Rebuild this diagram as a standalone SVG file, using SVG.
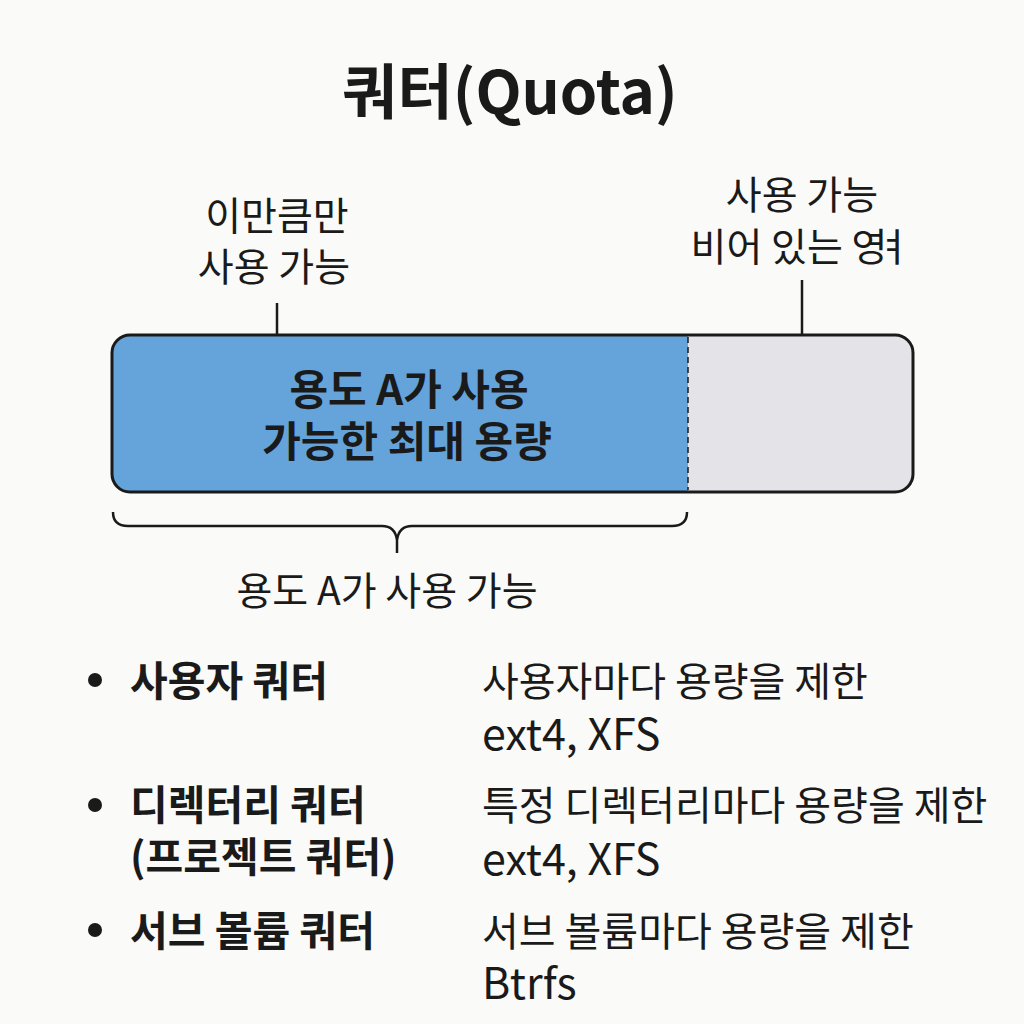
<svg xmlns="http://www.w3.org/2000/svg" width="1024" height="1024" viewBox="0 0 1024 1024">
<style>
text{font-family:"Noto Sans CJK KR","Noto Sans",sans-serif;fill:#1a1a1a}
.t{font-size:60px;font-weight:700;text-anchor:middle}
.lab{font-size:39px;text-anchor:middle}
.in{font-size:42px;font-weight:700;text-anchor:middle}
.b{font-size:41px;font-weight:700}
.d{font-size:40px}
.e{font-size:43px}
.ln{stroke:#1a1a1a;stroke-width:2.5;fill:none}
</style>
<rect width="1024" height="1024" fill="#fafaf8"/>
<g id="title"><text class="t" x="510" y="114">쿼터(Quota)</text></g>
<g id="used-label">
<text class="lab" x="277" y="230">이만큼만</text>
<text class="lab" x="274" y="281">사용 가능</text>
</g>
<g id="free-label">
<text class="lab" x="802" y="209">사용 가능</text>
<text class="lab" x="801" y="261">비어 있는 영<tspan dx="-12">ㅕ</tspan></text>
</g>
<g id="connectors">
<line class="ln" x1="277" y1="303" x2="277" y2="335"/>
<line class="ln" x1="802" y1="280" x2="802" y2="335"/>
<path class="ln" d="M113 512 Q113 526 128 526 L382 526 Q395 526 397 540 L397 553 M397 553 L397 540 Q399 526 412 526 L672 526 Q687 526 687 512"/>
</g>
<g id="bar">
<clipPath id="c"><rect x="112" y="335" width="801" height="157" rx="18"/></clipPath>
<g clip-path="url(#c)">
<rect x="112" y="335" width="576" height="157" fill="#64a4da"/>
<rect x="688" y="335" width="225" height="157" fill="#e3e3e8"/>
</g>
<line x1="688" y1="337" x2="688" y2="490" stroke="#1a1a1a" stroke-width="1.5" stroke-dasharray="6,4"/>
<rect x="112" y="335" width="801" height="157" rx="18" fill="none" stroke="#1a1a1a" stroke-width="3"/>
<text class="in" x="409" y="405">용도 A가 사용</text>
<text class="in" x="407" y="457">가능한 최대 용량</text>
</g>
<g id="brace-label"><text class="lab" x="387" y="605">용도 A가 사용 가능</text></g>
<g id="list">
<circle cx="95" cy="680" r="7" fill="#1a1a1a"/>
<circle cx="95" cy="805" r="7" fill="#1a1a1a"/>
<circle cx="95" cy="930" r="7" fill="#1a1a1a"/>
<text class="b" x="130" y="696">사용자 쿼터</text>
<text class="b" x="130" y="820">디렉터리 쿼터</text>
<text class="b" x="130" y="872">(프로젝트 쿼터)</text>
<text class="b" x="130" y="946">서브 볼륨 쿼터</text>
<text class="d" x="482" y="696">사용자마다 용량을 제한</text>
<text class="e" x="482" y="750">ext4, XFS</text>
<text class="d" x="482" y="820">특정 디렉터리마다 용량을 제한</text>
<text class="e" x="482" y="875">ext4, XFS</text>
<text class="d" x="482" y="946">서브 볼륨마다 용량을 제한</text>
<text class="e" x="482" y="999">Btrfs</text>
</g>
</svg>
